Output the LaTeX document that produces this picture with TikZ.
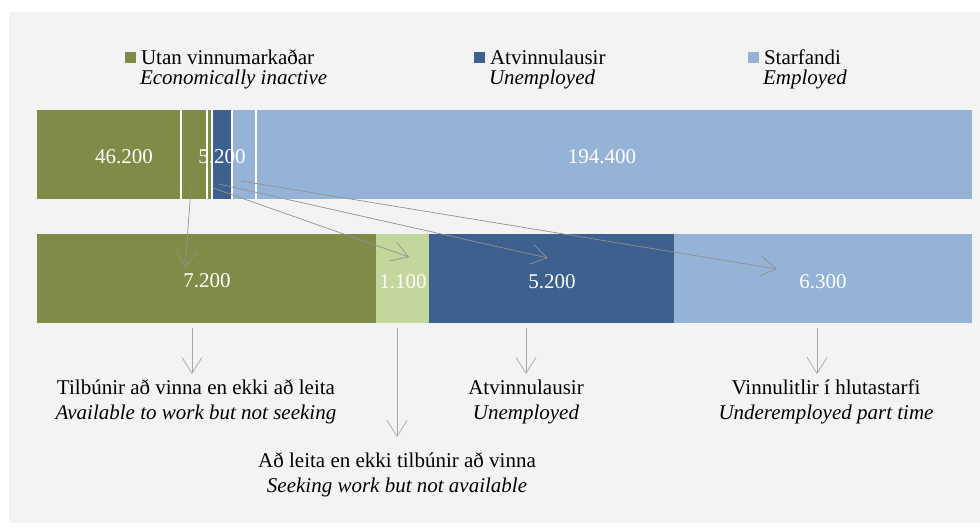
\documentclass[tikz,border=0pt]{standalone}
\usepackage{fontspec}
\setmainfont{Liberation Serif}
\usetikzlibrary{arrows.meta}
\definecolor{olive}{RGB}{127,139,71}
\definecolor{sage}{RGB}{195,214,155}
\definecolor{navy}{RGB}{61,96,143}
\definecolor{sky}{RGB}{149,179,215}
\definecolor{bg}{RGB}{242,244,243}
\definecolor{flowgray}{RGB}{145,145,145}

\begin{document}
\begin{tikzpicture}[x=1pt, y=-1pt,
txt/.style = {inner sep=0pt, outer sep=0pt, font=\fontsize{21}{25}\selectfont},
num/.style = {txt, anchor=base, text=white},
key/.style = {fill=#1, minimum size=10.5pt, inner sep=0pt, outer sep=0pt},
flow/.style = {draw=flowgray, line width=0.7pt,
            -{Straight Barb[length=16pt, width=20pt, line width=0.7pt]}}
                ]
    \useasboundingbox (0,0) rectangle (980,528);
    \fill[bg] (9,12) rectangle (980,523);

    % legend
    \foreach \x/\c/\t/\e in {125/olive/Utan vinnumarkaðar/Economically inactive,
                             474/navy/Atvinnulausir/Unemployed,
                             748/sky/Starfandi/Employed}{
        \node[key=\c] at (\x+5.5,57.5) (k\c) {};
        \node[txt, anchor=base west] at (\x+16,64) (t\c) {\t};
        \node[txt, anchor=base west] at (\x+15,84) (e\c) {\textit{\e}};
    }

    % bars
    \def\ta{109.5}
    \def\tb{198.5}
    \def\ba{233.5}
    \def\bb{322.5}
    \foreach \a/\b/\c in {37/212/olive, 212/232/navy, 232/972/sky}
        \fill[\c] (\a,\ta) rectangle (\b,\tb);
    \foreach \x in {181, 207.3, 211.7, 231.7, 256}
        \draw[white, line width=1.8pt] (\x,\ta) -- (\x,\tb);
    \foreach \a/\b/\c in {37/376/olive, 376/429/sage, 429/674/navy, 674/972/sky}
        \fill[\c] (\a,\ba) rectangle (\b,\bb);

    \foreach \x/\y/\v [count=\i] in {124/163/46.200, 222/163/5.200, 602/163/194.400,
                          207/287/7.200, 403/288/1.100, 552/288/5.200, 823/288/6.300}
        \node[num] at (\x,\y) (v\i) {\v};

    % flows from top bar to bottom bar
    \coordinate (s0) at (191,188);
    \coordinate (s1) at (213,188);
    \coordinate (s2) at (219,184);
    \coordinate (s3) at (241,181);
    \coordinate (d0) at (185,268);
    \coordinate (d1) at (409,257);
    \coordinate (d2) at (548,258);
    \coordinate (d3) at (777,269);
    \foreach \i in {0,...,3}
        \draw[flow] (s\i) -- (d\i);

    % labels under bottom bar
    \foreach \x/\y/\t/\e [count=\i] in {196/394/Tilbúnir að vinna en ekki að leita/Available to work but not seeking,
                             397/467/Að leita en ekki tilbúnir að vinna/Seeking work but not available,
                             526/394/Atvinnulausir/Unemployed,
                             826/394/Vinnulitlir í hlutastarfi/Underemployed part time}{
        \node[txt, anchor=base] at (\x,\y) (l\i) {\t};
        \node[txt, anchor=base] at (\x,\y+25) (m\i) {\textit{\e}};
    }
    \foreach \x/\y [count=\i] in {192/374, 397/437, 526/374, 817/374}{
        \coordinate (p\i) at (\x,328);
        \coordinate (q\i) at (\x,\y);
        \draw[flow, draw=flowgray!80] (p\i) -- (q\i);
    }
\end{tikzpicture}
\end{document}
